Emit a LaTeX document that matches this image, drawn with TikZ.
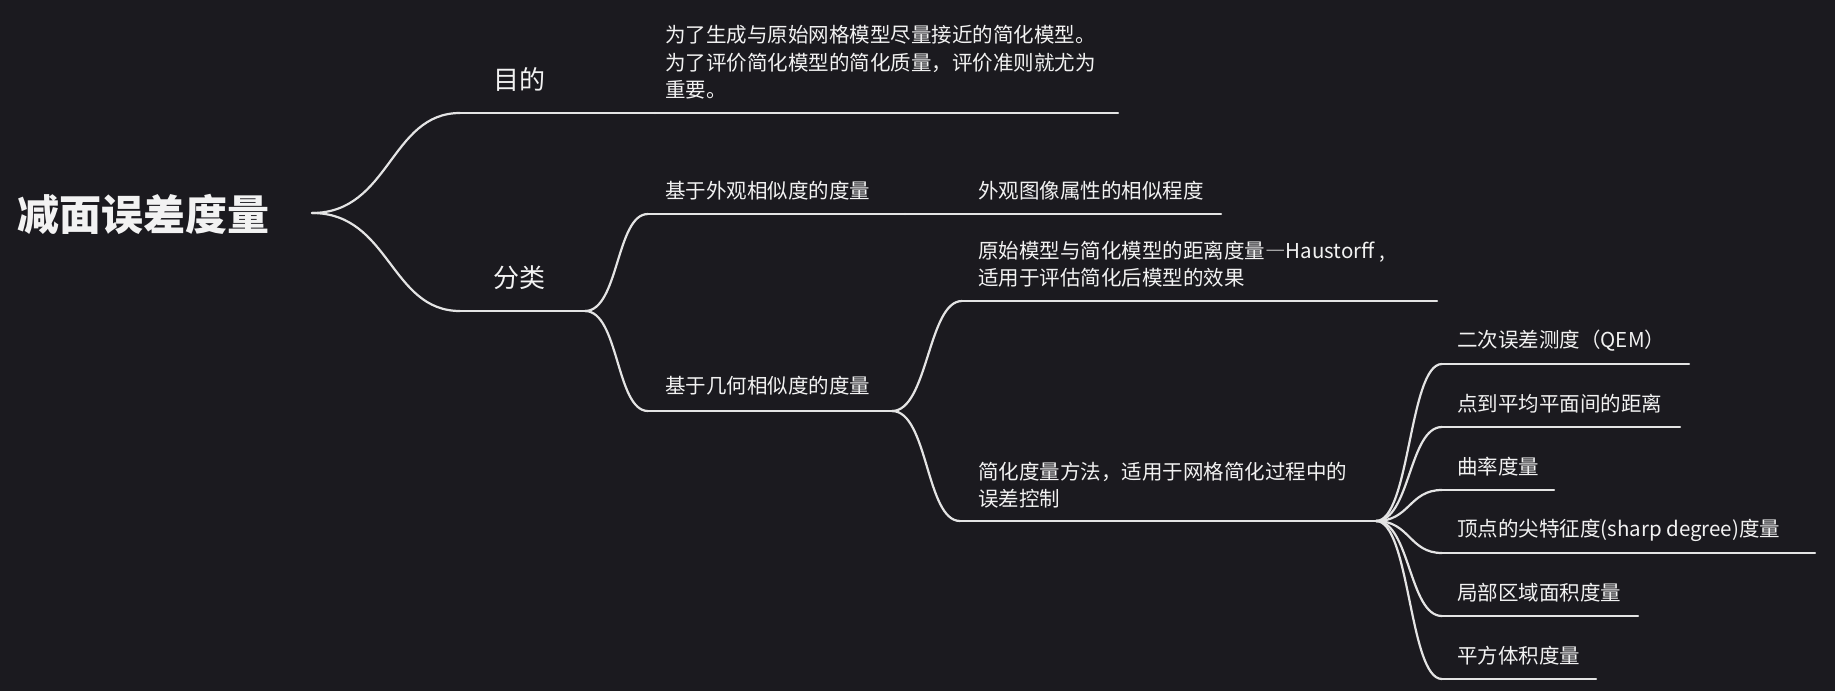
\documentclass[tikz,border=0pt]{standalone}
\usepackage{fontspec}
\setmainfont{Noto Sans CJK SC}
\definecolor{bg}{RGB}{27,26,31}
\definecolor{ln}{RGB}{228,228,228}
\definecolor{tx}{RGB}{242,242,242}
\tikzset{
  lnk/.style={draw=ln, line width=2.2pt, line cap=round},
  rootnode/.style={anchor=west, inner sep=0pt, text=tx, font=\fontsize{42}{50}\selectfont\bfseries},
  lvlone/.style={anchor=west, inner sep=0pt, text=tx, font=\fontsize{26}{32}\selectfont},
  leafnode/.style={anchor=west, inner sep=0pt, text=tx, align=left, font=\fontsize{20.5}{27.5}\selectfont},
}
\begin{document}
\begin{tikzpicture}[x=1pt,y=-1pt]
\fill[bg] (0,0) rectangle (1835,691);
\useasboundingbox (0,0) rectangle (1835,691);

% texts
\node[rootnode] (root) at (17,214) {减面误差度量};
\node[lvlone] (mud) at (493,79) {目的};
\node[lvlone] (fen) at (493,278) {分类};
\node[leafnode] (wl) at (665,62.5) {为了生成与原始网格模型尽量接近的简化模型。\\为了评价简化模型的简化质量，评价准则就尤为\\重要。};
\node[leafnode] (wg) at (665,191) {基于外观相似度的度量};
\node[leafnode] (wt) at (978,191) {外观图像属性的相似程度};
\node[leafnode] (jh) at (665,386) {基于几何相似度的度量};
\node[leafnode] (ys) at (978,264) {原始模型与简化模型的距离度量―Haustorff ,\\适用于评估简化后模型的效果};
\node[leafnode] (jd) at (978,485) {简化度量方法，适用于网格简化过程中的\\误差控制};
\node[leafnode] (c1) at (1457,341) {二次误差测度（QEM）};
\node[leafnode] (c2) at (1457,404) {点到平均平面间的距离};
\node[leafnode] (c3) at (1457,467) {曲率度量};
\node[leafnode] (c4) at (1457,530) {顶点的尖特征度(sharp degree)度量};
\node[leafnode] (c5) at (1457,593) {局部区域面积度量};
\node[leafnode] (c6) at (1457,656) {平方体积度量};

% underline end points
\coordinate (root-e) at (312,213);
\coordinate (mud-s) at (460,113);  \coordinate (mud-e) at (655,113);
\coordinate (fen-s) at (460,311);  \coordinate (fen-e) at (585,311);
\coordinate (wl-s) at (655,113);   \coordinate (wl-e) at (1118,113);
\coordinate (wg-s) at (648,214);   \coordinate (wg-e) at (905,214);
\coordinate (wt-s) at (905,214);   \coordinate (wt-e) at (1221,214);
\coordinate (jh-s) at (648,411);   \coordinate (jh-e) at (892,411);
\coordinate (ys-s) at (962,301);   \coordinate (ys-e) at (1437,301);
\coordinate (jd-s) at (960,521);   \coordinate (jd-e) at (1376,521);
\coordinate (c1-s) at (1442,364);  \coordinate (c1-e) at (1689,364);
\coordinate (c2-s) at (1442,427);  \coordinate (c2-e) at (1680,427);
\coordinate (c3-s) at (1442,490);  \coordinate (c3-e) at (1554,490);
\coordinate (c4-s) at (1442,553);  \coordinate (c4-e) at (1815,553);
\coordinate (c5-s) at (1442,616);  \coordinate (c5-e) at (1638,616);
\coordinate (c6-s) at (1442,679);  \coordinate (c6-e) at (1596,679);

% underlines
\foreach \n in {mud,fen,wl,wg,wt,jh,ys,jd,c1,c2,c3,c4,c5,c6}
  \draw[lnk] (\n-s) -- (\n-e);

% connectors
\draw[lnk] (root-e) .. controls +(78,0) and +(-70,0) .. (mud-s);
\draw[lnk] (root-e) .. controls +(78,0) and +(-70,0) .. (fen-s);
\draw[lnk] (mud-e) -- (wl-s);
\draw[lnk] (fen-e) .. controls +(34,0) and +(-32,0) .. (wg-s);
\draw[lnk] (fen-e) .. controls +(34,0) and +(-32,0) .. (jh-s);
\draw[lnk] (wg-e) -- (wt-s);
\draw[lnk] (jh-e) .. controls +(36,0) and +(-34,0) .. (ys-s);
\draw[lnk] (jh-e) .. controls +(36,0) and +(-34,0) .. (jd-s);
\foreach \n in {c1,c2,c3,c4,c5,c6}
  \draw[lnk] (jd-e) .. controls +(34,0) and +(-33,0) .. (\n-s);
\end{tikzpicture}
\end{document}
